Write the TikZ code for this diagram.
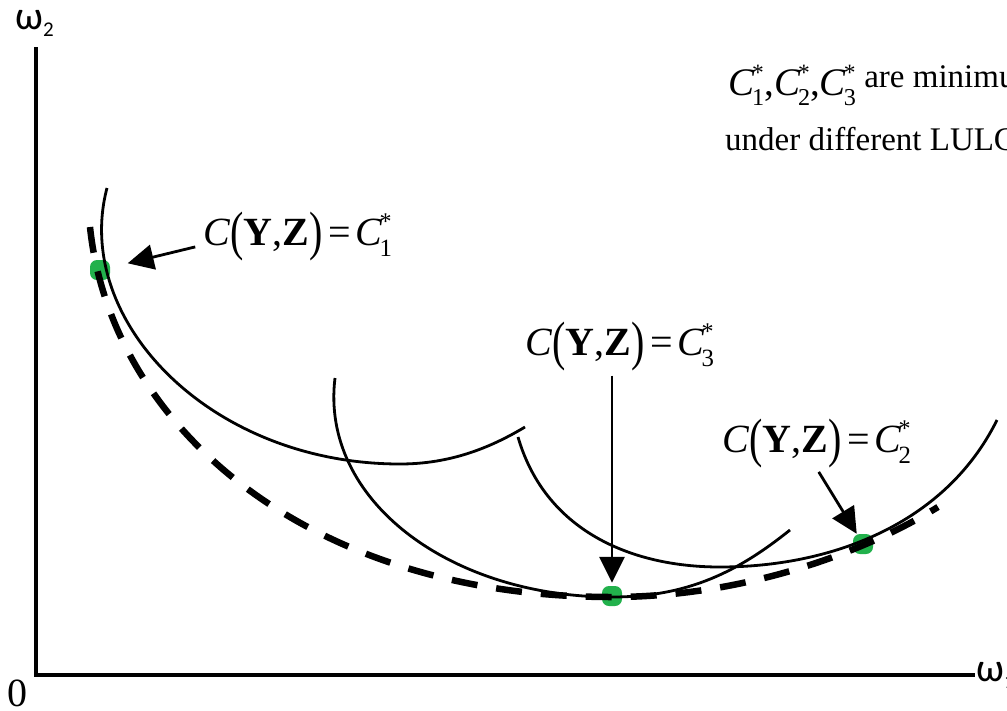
\documentclass[tikz,border=0pt]{standalone}
\usepackage{fontspec}
\setmainfont{Liberation Serif}
\newfontfamily\axisfont{Carlito}
\usepackage{graphicx}
\usetikzlibrary{arrows.meta, positioning, calc}
\definecolor{dotgreen}{RGB}{34,177,76}

% tall parentheses and starred C with subscript
\newcommand{\tallp}[1]{\raisebox{-0.12em}{\scalebox{1}[1.35]{#1}}}
\newcommand{\Cs}[1]{\textit{C}\kern-0.06em\rlap{\raisebox{0.38em}{\scalebox{0.6}{*}}}\raisebox{-0.28em}{\scalebox{0.62}{#1}}}
\newcommand{\costlbl}[1]{\textit{C}\tallp{(}\textbf{Y},\textbf{Z}\tallp{)}\kern6pt=\kern4pt\Cs{#1}}
\newcommand{\omegasub}[1]{ω\raisebox{-7pt}{\fontsize{21}{21}\selectfont #1}}

\begin{document}
\begin{tikzpicture}[x=1pt, y=-1pt,
  curve/.style={line width=2.8pt},
  envelope/.style={line width=6.5pt, dash pattern=on 26pt off 19pt},
  pointer/.style={line width=2.8pt, -{Triangle[length=26pt,width=25pt]}},
  dot/.style={fill=dotgreen, rounded corners=7pt, minimum size=20pt, inner sep=0pt},
  eqlbl/.style={font=\fontsize{40}{46}\selectfont, inner sep=0pt, anchor=base west}]
\useasboundingbox (0,0) rectangle (1007,710);

% axes
\coordinate (ytop) at (36,47);
\coordinate (xend) at (975,675);
\draw[line width=3.5pt] (ytop) |- (xend);
\node[anchor=base west, inner sep=0pt, font=\axisfont\fontsize{40}{44}\selectfont] (w2) at (15,29) {\omegasub{2}};
\node[anchor=base west, inner sep=0pt, font=\axisfont\fontsize{40}{44}\selectfont] (w1) at (976,681) {\omegasub{1}};
\node[anchor=base, inner sep=0pt, font=\fontsize{40}{44}\selectfont] (zero) at (17,706) {0};

% tangent points
\node[dot] (dotA) at (100,270) {};
\node[dot] (dotC) at (612,596) {};
\node[dot] (dotB) at (863,544) {};

% C1 contour
\draw[curve] (107,188) .. controls (72,320) and (210,464) .. (400,464)
  .. controls (450,464) and (490,448) .. (525,427);
% C3 contour
\draw[curve] (335,378) .. controls (320,500) and (450,597) .. (612,597)
  .. controls (690,597) and (740,570) .. (790,530);
% C2 contour
\draw[curve] (518,437) .. controls (545,530) and (630,567) .. (720,567)
  .. controls (830,567) and (945,525) .. (997,420);
% envelope
\draw[envelope] (90,227) .. controls (110,420) and (300,597) .. (612,597)
  .. controls (740,597) and (860,555) .. (938,507);

% labels
\node[eqlbl] (lblA) at (203,245) {\costlbl{1}};
\node[eqlbl] (lblC) at (525,355) {\costlbl{3}};
\node[eqlbl] (lblB) at (722,452) {\costlbl{2}};
\draw[pointer, shorten <=8pt, shorten >=18pt] (lblA.base west) -- (dotA);
\draw[pointer, shorten <=4pt, shorten >=3pt] (lblC.south -| dotC) -- (dotC);
\draw[pointer, shorten <=4pt, shorten >=0pt] (lblB.south) -- (dotB);

% note
\node[anchor=base west, inner sep=0pt, font=\fontsize{33}{38}\selectfont] (note1) at (728,87) {\raisebox{-8pt}{\fontsize{39}{42}\selectfont\Cs{1},\Cs{2},\Cs{3}} are minimum};
\node[anchor=base west, inner sep=0pt, font=\fontsize{33}{38}\selectfont] (note2) at (725,150) {under different LULC};
\end{tikzpicture}
\end{document}
